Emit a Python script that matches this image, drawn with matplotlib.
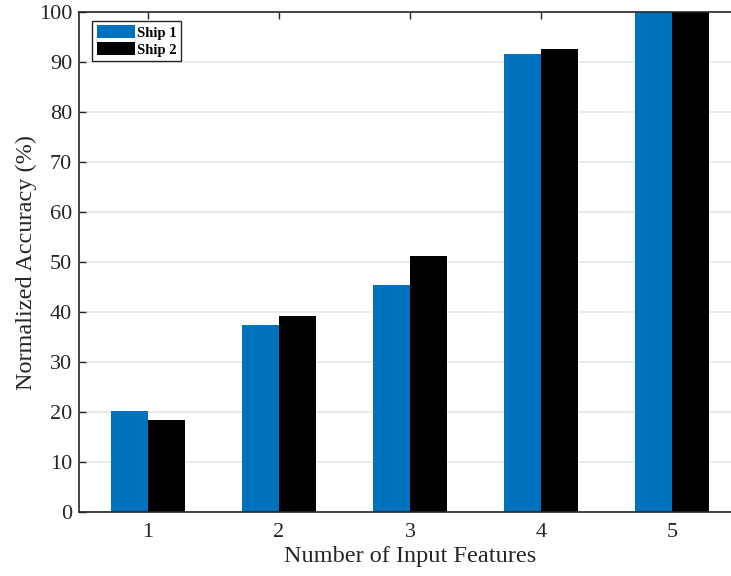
import numpy as np
import matplotlib.pyplot as plt

plt.rcParams['font.family'] = ['Liberation Serif', 'DejaVu Serif']

# Data
features = [1, 2, 3, 4, 5]
ship1 = [20.3, 37.4, 45.5, 91.6, 100.0]
ship2 = [18.4, 39.2, 51.3, 92.6, 100.0]
series_names = ["Ship 1", "Ship 2"]

fig = plt.figure(figsize=(7.31, 5.76), dpi=100)
# axes right edge runs past the figure (image is cropped on the right)
ax = fig.add_axes([79 / 731, 1 - 512 / 576, (741 - 79) / 731, 500 / 576])

x = np.array(features)
w = 0.285
ax.bar(x - w / 2, ship1, w, color="#0072BD", label=series_names[0], zorder=2)
ax.bar(x + w / 2, ship2, w, color="black", label=series_names[1], zorder=2)

ax.set_xlim(0.473, 5.527)
ax.set_ylim(0, 100)
ax.set_xticks(features)
ax.set_yticks(range(0, 101, 10))
ax.yaxis.grid(True, color="#e6e6e6", linewidth=1.2, zorder=0)
ax.set_axisbelow(True)

ax.tick_params(direction="in", length=5, width=1, labelsize=16,
               top=True, right=False, colors="#262626", labelcolor="#262626")
ax.tick_params(axis="x", pad=8)
ax.tick_params(axis="y", pad=5)
for s in ax.spines.values():
    s.set_color("#262626")
    s.set_linewidth(1.2)

ax.set_xlabel("Number of Input Features", fontsize=17.5, color="#262626", labelpad=3)
ax.set_ylabel("Normalized Accuracy (%)", fontsize=17.5, color="#262626", labelpad=1)

leg = ax.legend(loc="upper left", bbox_to_anchor=(0.02, 0.982), fancybox=False,
                edgecolor="#262626", framealpha=1, prop={"weight": "bold", "size": 10.5},
                handlelength=2.6, handleheight=1.0, handletextpad=0.2,
                borderpad=0.3, labelspacing=0.15, borderaxespad=0)
leg.get_frame().set_linewidth(1.0)

fig.savefig("out.png", dpi=100)
